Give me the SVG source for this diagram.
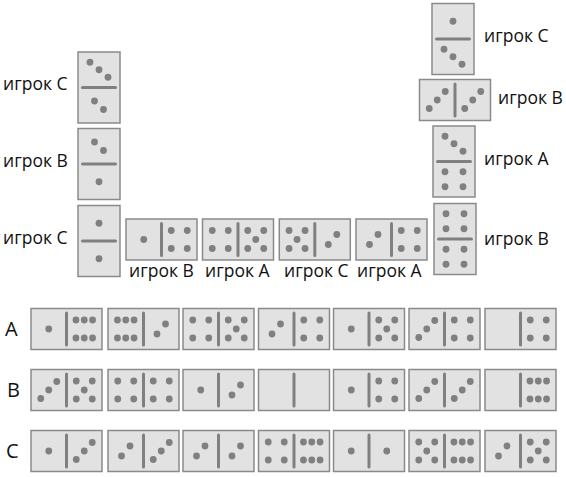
<svg xmlns="http://www.w3.org/2000/svg" xmlns:xlink="http://www.w3.org/1999/xlink" width="566" height="477" viewBox="0 0 566 477">
<style>
.t{font-family:"Open Sans","DejaVu Sans",sans-serif;font-size:17.5px;fill:#111}
.h{font-family:"Open Sans","DejaVu Sans",sans-serif;font-size:20px;fill:#111}
.b{fill:#e2e2e2;stroke:#8a8a8a;stroke-width:1.5}
.d{stroke:#808080;stroke-width:3;stroke-linecap:round}
.p{fill:#808080}
</style>
<defs>
<g id="hb"><rect class="b" x="0" y="0" width="71" height="41"/><line class="d" x1="35.5" y1="4.5" x2="35.5" y2="36.5"/></g>
<g id="vb"><rect class="b" x="0" y="0" width="42" height="71"/><line class="d" x1="4.5" y1="35.5" x2="37.5" y2="35.5"/></g>
<circle id="o" class="p" r="3.4"/>
</defs>
<rect width="566" height="477" fill="#fff"/>
<g id="labels">
<text class="t" x="3" y="90">игрок С</text>
<text class="t" x="3" y="167">игрок В</text>
<text class="t" x="3" y="244">игрок С</text>
<text class="t" x="129" y="277">игрок В</text>
<text class="t" x="205" y="277">игрок А</text>
<text class="t" x="284" y="277">игрок С</text>
<text class="t" x="357" y="277">игрок А</text>
<text class="t" x="484" y="42">игрок С</text>
<text class="t" x="498" y="104">игрок В</text>
<text class="t" x="484" y="165">игрок А</text>
<text class="t" x="484" y="245">игрок В</text>
<text class="h" x="5" y="336">A</text>
<text class="h" x="7" y="397">B</text>
<text class="h" x="6" y="458">C</text>
</g>
<g id="connectors"></g>
<!-- left column -->
<g id="L1" transform="translate(78,52)"><use href="#vb"/>
<use href="#o" x="12" y="10.25"/><use href="#o" x="21" y="17.75"/><use href="#o" x="30" y="25.25"/>
<use href="#o" x="16.5" y="49"/><use href="#o" x="25.5" y="57.5"/></g>
<g id="L2" transform="translate(78,128.5)"><use href="#vb"/>
<use href="#o" x="16.5" y="13.5"/><use href="#o" x="25.5" y="22"/>
<use href="#o" x="21" y="53.25"/></g>
<g id="L3" transform="translate(78,205.5)"><use href="#vb"/>
<use href="#o" x="21" y="17.75"/><use href="#o" x="21" y="53.25"/></g>
<!-- middle row -->
<g id="M1" transform="translate(126,219)"><use href="#hb"/>
<use href="#o" x="17.75" y="20.5"/>
<use href="#o" x="45.25" y="11.5"/><use href="#o" x="61.25" y="11.5"/><use href="#o" x="45.25" y="29.5"/><use href="#o" x="61.25" y="29.5"/></g>
<g id="M2" transform="translate(202.5,219)"><use href="#hb"/>
<use href="#o" x="9.75" y="11.5"/><use href="#o" x="25.75" y="11.5"/><use href="#o" x="9.75" y="29.5"/><use href="#o" x="25.75" y="29.5"/>
<use href="#o" x="45.25" y="11.5"/><use href="#o" x="61.25" y="11.5"/><use href="#o" x="45.25" y="29.5"/><use href="#o" x="61.25" y="29.5"/><use href="#o" x="53.25" y="20.5"/></g>
<g id="M3" transform="translate(279.3,219)"><use href="#hb"/>
<use href="#o" x="9.75" y="11.5"/><use href="#o" x="25.75" y="11.5"/><use href="#o" x="9.75" y="29.5"/><use href="#o" x="25.75" y="29.5"/><use href="#o" x="17.75" y="20.5"/>
<use href="#o" x="49" y="25.5"/><use href="#o" x="57.5" y="15.5"/></g>
<g id="M4" transform="translate(356,219)"><use href="#hb"/>
<use href="#o" x="13.5" y="25.5"/><use href="#o" x="22" y="15.5"/>
<use href="#o" x="45.25" y="11.5"/><use href="#o" x="61.25" y="11.5"/><use href="#o" x="45.25" y="29.5"/><use href="#o" x="61.25" y="29.5"/></g>
<!-- right column -->
<g id="R1" transform="translate(432,3.5)"><use href="#vb"/>
<use href="#o" x="21" y="17.75"/>
<use href="#o" x="12" y="45.75"/><use href="#o" x="21" y="53.25"/><use href="#o" x="30" y="60.75"/></g>
<g id="R2" transform="translate(419.5,79.5)"><use href="#hb"/>
<use href="#o" x="9.75" y="29"/><use href="#o" x="17.75" y="20.5"/><use href="#o" x="25.75" y="12"/>
<use href="#o" x="45.25" y="29"/><use href="#o" x="53.25" y="20.5"/><use href="#o" x="61.25" y="12"/></g>
<g id="R3" transform="translate(433,126)"><use href="#vb"/>
<use href="#o" x="12" y="10.25"/><use href="#o" x="21" y="17.75"/><use href="#o" x="30" y="25.25"/>
<use href="#o" x="12" y="45.75"/><use href="#o" x="30" y="45.75"/><use href="#o" x="12" y="60.75"/><use href="#o" x="30" y="60.75"/></g>
<g id="R4" transform="translate(434,203.5)"><use href="#vb"/>
<use href="#o" x="12" y="10.25"/><use href="#o" x="30" y="10.25"/><use href="#o" x="12" y="25.25"/><use href="#o" x="30" y="25.25"/>
<use href="#o" x="12" y="45.75"/><use href="#o" x="30" y="45.75"/><use href="#o" x="12" y="60.75"/><use href="#o" x="30" y="60.75"/></g>
<!-- hand A -->
<g id="A1" transform="translate(31,308.5)"><use href="#hb"/>
<use href="#o" x="17.75" y="20.5"/>
<use href="#o" x="44.95" y="11.5"/><use href="#o" x="53.25" y="11.5"/><use href="#o" x="61.55" y="11.5"/><use href="#o" x="44.95" y="29.5"/><use href="#o" x="53.25" y="29.5"/><use href="#o" x="61.55" y="29.5"/></g>
<g id="A2" transform="translate(108,308.5)"><use href="#hb"/>
<use href="#o" x="9.45" y="11.5"/><use href="#o" x="17.75" y="11.5"/><use href="#o" x="26.05" y="11.5"/><use href="#o" x="9.45" y="29.5"/><use href="#o" x="17.75" y="29.5"/><use href="#o" x="26.05" y="29.5"/>
<use href="#o" x="49" y="25.5"/><use href="#o" x="57.5" y="15.5"/></g>
<g id="A3" transform="translate(183,308.5)"><use href="#hb"/>
<use href="#o" x="9.75" y="11.5"/><use href="#o" x="25.75" y="11.5"/><use href="#o" x="9.75" y="29.5"/><use href="#o" x="25.75" y="29.5"/>
<use href="#o" x="45.25" y="11.5"/><use href="#o" x="61.25" y="11.5"/><use href="#o" x="45.25" y="29.5"/><use href="#o" x="61.25" y="29.5"/><use href="#o" x="53.25" y="20.5"/></g>
<g id="A4" transform="translate(258.5,308.5)"><use href="#hb"/>
<use href="#o" x="13.5" y="25.5"/><use href="#o" x="22" y="15.5"/>
<use href="#o" x="45.25" y="11.5"/><use href="#o" x="61.25" y="11.5"/><use href="#o" x="45.25" y="29.5"/><use href="#o" x="61.25" y="29.5"/></g>
<g id="A5" transform="translate(333.5,308.5)"><use href="#hb"/>
<use href="#o" x="17.75" y="20.5"/>
<use href="#o" x="45.25" y="11.5"/><use href="#o" x="61.25" y="11.5"/><use href="#o" x="45.25" y="29.5"/><use href="#o" x="61.25" y="29.5"/><use href="#o" x="53.25" y="20.5"/></g>
<g id="A6" transform="translate(409,308.5)"><use href="#hb"/>
<use href="#o" x="9.75" y="29"/><use href="#o" x="17.75" y="20.5"/><use href="#o" x="25.75" y="12"/>
<use href="#o" x="45.25" y="11.5"/><use href="#o" x="61.25" y="11.5"/><use href="#o" x="45.25" y="29.5"/><use href="#o" x="61.25" y="29.5"/></g>
<g id="A7" transform="translate(485,308.5)"><use href="#hb"/>
<use href="#o" x="45.25" y="11.5"/><use href="#o" x="61.25" y="11.5"/><use href="#o" x="45.25" y="29.5"/><use href="#o" x="61.25" y="29.5"/></g>
<!-- hand B -->
<g id="B1" transform="translate(31,369.5)"><use href="#hb"/>
<use href="#o" x="9.75" y="29"/><use href="#o" x="17.75" y="20.5"/><use href="#o" x="25.75" y="12"/>
<use href="#o" x="45.25" y="11.5"/><use href="#o" x="61.25" y="11.5"/><use href="#o" x="45.25" y="29.5"/><use href="#o" x="61.25" y="29.5"/><use href="#o" x="53.25" y="20.5"/></g>
<g id="B2" transform="translate(108,369.5)"><use href="#hb"/>
<use href="#o" x="9.75" y="11.5"/><use href="#o" x="25.75" y="11.5"/><use href="#o" x="9.75" y="29.5"/><use href="#o" x="25.75" y="29.5"/>
<use href="#o" x="45.25" y="11.5"/><use href="#o" x="61.25" y="11.5"/><use href="#o" x="45.25" y="29.5"/><use href="#o" x="61.25" y="29.5"/></g>
<g id="B3" transform="translate(183,369.5)"><use href="#hb"/>
<use href="#o" x="17.75" y="20.5"/>
<use href="#o" x="49" y="25.5"/><use href="#o" x="57.5" y="15.5"/></g>
<g id="B4" transform="translate(258.5,369.5)"><use href="#hb"/></g>
<g id="B5" transform="translate(333.5,369.5)"><use href="#hb"/>
<use href="#o" x="17.75" y="20.5"/>
<use href="#o" x="45.25" y="11.5"/><use href="#o" x="61.25" y="11.5"/><use href="#o" x="45.25" y="29.5"/><use href="#o" x="61.25" y="29.5"/></g>
<g id="B6" transform="translate(409,369.5)"><use href="#hb"/>
<use href="#o" x="9.75" y="29"/><use href="#o" x="17.75" y="20.5"/><use href="#o" x="25.75" y="12"/>
<use href="#o" x="45.25" y="29"/><use href="#o" x="53.25" y="20.5"/><use href="#o" x="61.25" y="12"/></g>
<g id="B7" transform="translate(485,369.5)"><use href="#hb"/>
<use href="#o" x="44.95" y="11.5"/><use href="#o" x="53.25" y="11.5"/><use href="#o" x="61.55" y="11.5"/><use href="#o" x="44.95" y="29.5"/><use href="#o" x="53.25" y="29.5"/><use href="#o" x="61.55" y="29.5"/></g>
<!-- hand C -->
<g id="C1" transform="translate(31,430.5)"><use href="#hb"/>
<use href="#o" x="17.75" y="20.5"/>
<use href="#o" x="45.25" y="29"/><use href="#o" x="53.25" y="20.5"/><use href="#o" x="61.25" y="12"/></g>
<g id="C2" transform="translate(108,430.5)"><use href="#hb"/>
<use href="#o" x="13.5" y="25.5"/><use href="#o" x="22" y="15.5"/>
<use href="#o" x="45.25" y="29"/><use href="#o" x="53.25" y="20.5"/><use href="#o" x="61.25" y="12"/></g>
<g id="C3" transform="translate(183,430.5)"><use href="#hb"/>
<use href="#o" x="13.5" y="25.5"/><use href="#o" x="22" y="15.5"/>
<use href="#o" x="49" y="25.5"/><use href="#o" x="57.5" y="15.5"/></g>
<g id="C4" transform="translate(258.5,430.5)"><use href="#hb"/>
<use href="#o" x="9.75" y="11.5"/><use href="#o" x="25.75" y="11.5"/><use href="#o" x="9.75" y="29.5"/><use href="#o" x="25.75" y="29.5"/>
<use href="#o" x="44.95" y="11.5"/><use href="#o" x="53.25" y="11.5"/><use href="#o" x="61.55" y="11.5"/><use href="#o" x="44.95" y="29.5"/><use href="#o" x="53.25" y="29.5"/><use href="#o" x="61.55" y="29.5"/></g>
<g id="C5" transform="translate(333.5,430.5)"><use href="#hb"/>
<use href="#o" x="17.75" y="20.5"/><use href="#o" x="53.25" y="20.5"/></g>
<g id="C6" transform="translate(409,430.5)"><use href="#hb"/>
<use href="#o" x="9.75" y="11.5"/><use href="#o" x="25.75" y="11.5"/><use href="#o" x="9.75" y="29.5"/><use href="#o" x="25.75" y="29.5"/><use href="#o" x="17.75" y="20.5"/>
<use href="#o" x="44.95" y="11.5"/><use href="#o" x="53.25" y="11.5"/><use href="#o" x="61.55" y="11.5"/><use href="#o" x="44.95" y="29.5"/><use href="#o" x="53.25" y="29.5"/><use href="#o" x="61.55" y="29.5"/></g>
<g id="C7" transform="translate(485,430.5)"><use href="#hb"/>
<use href="#o" x="13.5" y="25.5"/><use href="#o" x="22" y="15.5"/>
<use href="#o" x="45.25" y="11.5"/><use href="#o" x="61.25" y="11.5"/><use href="#o" x="45.25" y="29.5"/><use href="#o" x="61.25" y="29.5"/><use href="#o" x="53.25" y="20.5"/></g>
</svg>
